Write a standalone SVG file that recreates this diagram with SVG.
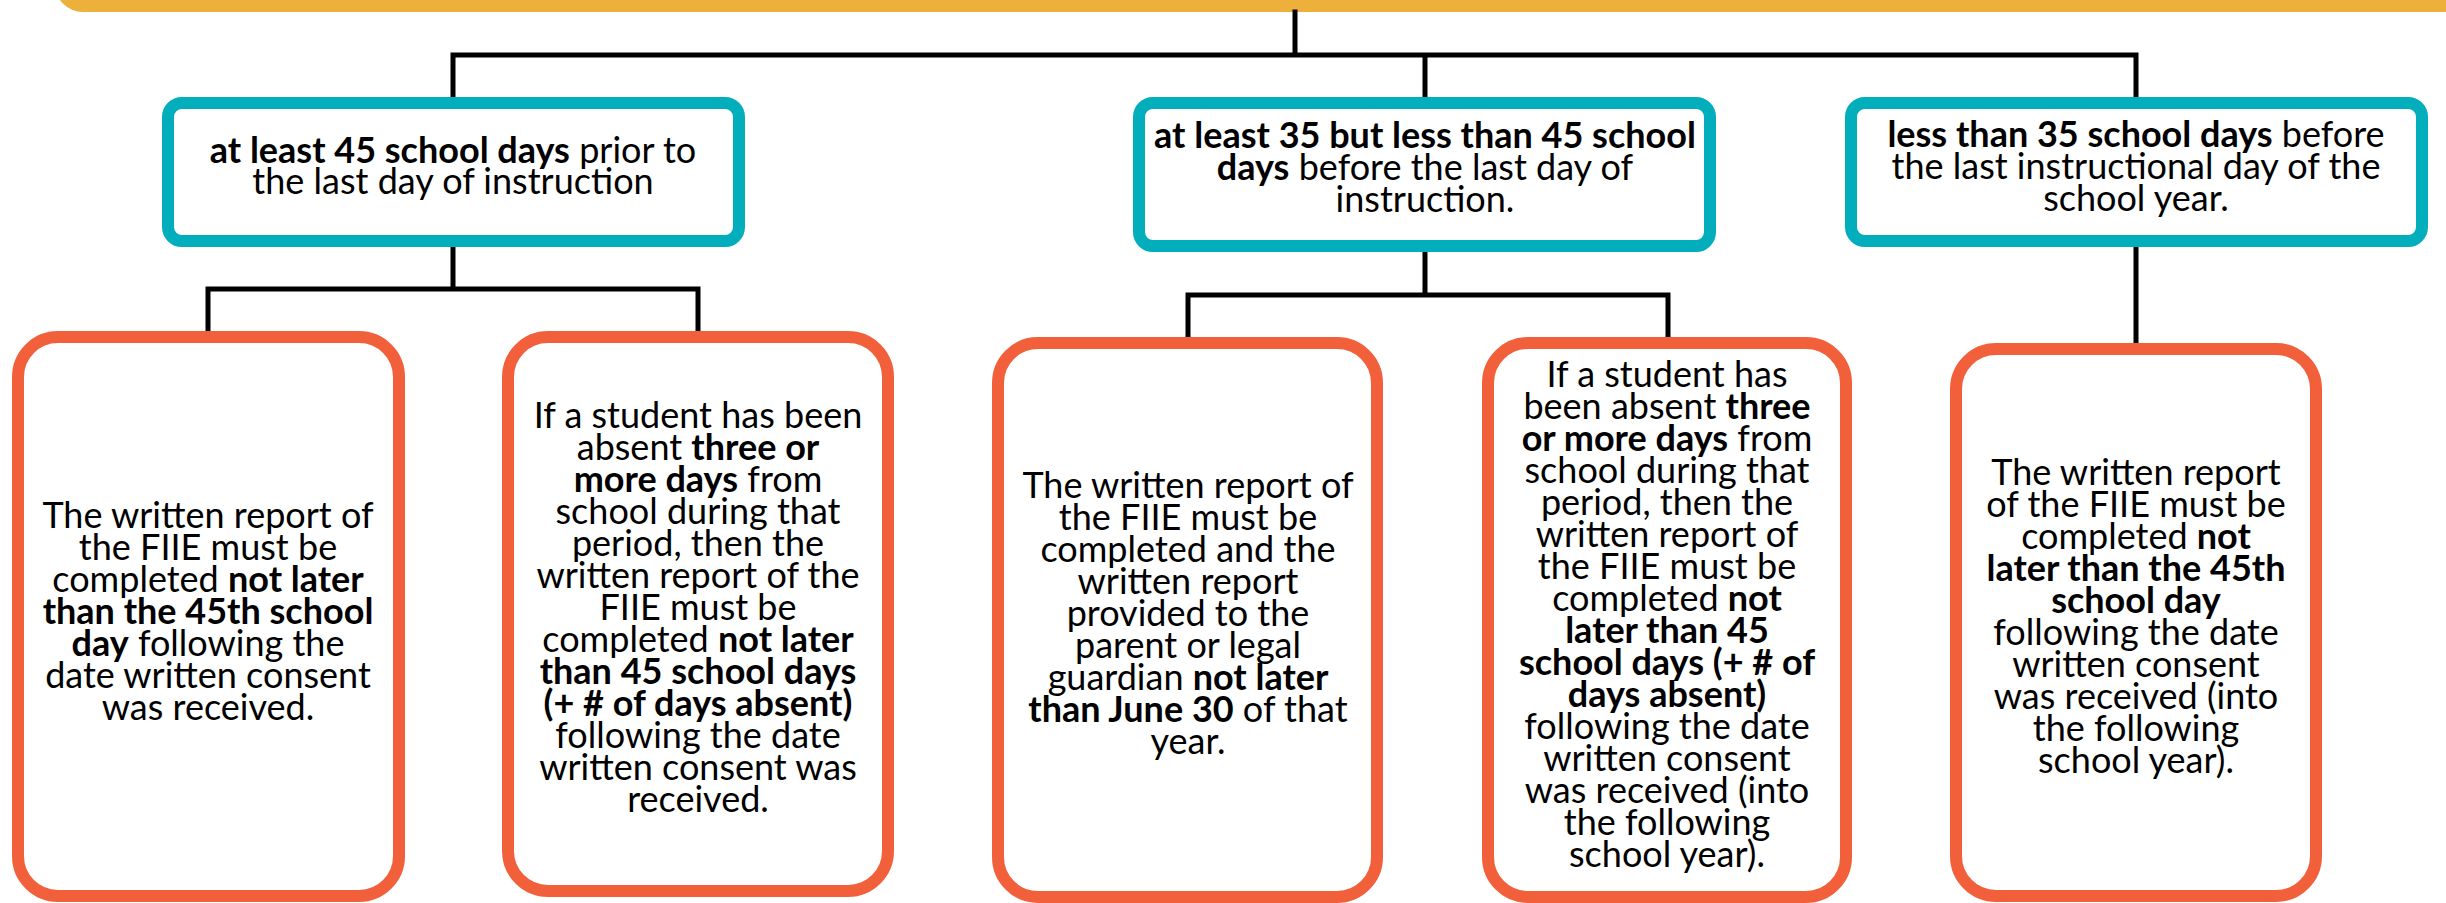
<svg xmlns="http://www.w3.org/2000/svg" width="2446" height="903" viewBox="0 0 2446 903">
<style>
.t{font-family:Lato,"Liberation Sans",sans-serif;font-size:36px;fill:#000;text-anchor:middle}
.b{font-weight:bold}
.teal{fill:#fff;stroke:#03AEBC;stroke-width:12}
.org{fill:#fff;stroke:#F2603B;stroke-width:12}
.ln{stroke:#000;stroke-width:5;fill:none;stroke-linecap:square}
</style>
<rect id="top-bar" x="61" y="-60" width="2446" height="66" rx="22" fill="#fff" stroke="#EDB03A" stroke-width="12"/>
<g id="connectors">
<path class="ln" d="M1295,12 V55 M453,55 H2136 M453,55 V97 M1425,55 V97 M2136,55 V97"/>
<path class="ln" d="M453,247 V289 M208,289 H698 M208,289 V331 M698,289 V331"/>
<path class="ln" d="M1425,252 V295 M1188,295 H1668 M1188,295 V337 M1668,295 V337"/>
<path class="ln" d="M2136,247 V343"/>
</g>
<g id="teal1">
<rect class="teal" x="168" y="103" width="571" height="138" rx="14"/>
<text class="t"><tspan x="453" y="163"><tspan class="b">at least 45 school days</tspan> prior to</tspan><tspan x="453" dy="31">the last day of instruction</tspan></text>
</g>
<g id="teal2">
<rect class="teal" x="1139" y="103" width="571" height="143" rx="14"/>
<text class="t"><tspan x="1425" y="148" class="b">at least 35 but less than 45 school</tspan><tspan x="1425" dy="32"><tspan class="b">days</tspan> before the last day of</tspan><tspan x="1425" dy="32">instruction.</tspan></text>
</g>
<g id="teal3">
<rect class="teal" x="1851" y="103" width="571" height="138" rx="14"/>
<text class="t"><tspan x="2136" y="147"><tspan class="b">less than 35 school days</tspan> before</tspan><tspan x="2136" dy="32">the last instructional day of the</tspan><tspan x="2136" dy="32">school year.</tspan></text>
</g>
<g id="orange1">
<rect class="org" x="18" y="337" width="381" height="559" rx="40"/>
<text class="t"><tspan x="208" y="528">The written report of</tspan><tspan x="208" dy="32">the FIIE must be</tspan><tspan x="208" dy="32">completed <tspan class="b">not later</tspan></tspan><tspan x="208" dy="32" class="b">than the 45th school</tspan><tspan x="208" dy="32"><tspan class="b">day</tspan> following the</tspan><tspan x="208" dy="32">date written consent</tspan><tspan x="208" dy="32">was received.</tspan></text>
</g>
<g id="orange2">
<rect class="org" x="508" y="337" width="380" height="554" rx="40"/>
<text class="t"><tspan x="698" y="428">If a student has been</tspan><tspan x="698" dy="32">absent <tspan class="b">three or</tspan></tspan><tspan x="698" dy="32"><tspan class="b">more days</tspan> from</tspan><tspan x="698" dy="32">school during that</tspan><tspan x="698" dy="32">period, then the</tspan><tspan x="698" dy="32">written report of the</tspan><tspan x="698" dy="32">FIIE must be</tspan><tspan x="698" dy="32">completed <tspan class="b">not later</tspan></tspan><tspan x="698" dy="32" class="b">than 45 school days</tspan><tspan x="698" dy="32" class="b">(+ # of days absent)</tspan><tspan x="698" dy="32">following the date</tspan><tspan x="698" dy="32">written consent was</tspan><tspan x="698" dy="32">received.</tspan></text>
</g>
<g id="orange3">
<rect class="org" x="998" y="343" width="379" height="554" rx="40"/>
<text class="t"><tspan x="1188" y="498">The written report of</tspan><tspan x="1188" dy="32">the FIIE must be</tspan><tspan x="1188" dy="32">completed and the</tspan><tspan x="1188" dy="32">written report</tspan><tspan x="1188" dy="32">provided to the</tspan><tspan x="1188" dy="32">parent or legal</tspan><tspan x="1188" dy="32">guardian <tspan class="b">not later</tspan></tspan><tspan x="1188" dy="32"><tspan class="b">than June 30</tspan> of that</tspan><tspan x="1188" dy="32">year.</tspan></text>
</g>
<g id="orange4">
<rect class="org" x="1488" y="343" width="358" height="554" rx="40"/>
<text class="t"><tspan x="1667" y="387">If a student has</tspan><tspan x="1667" dy="32">been absent <tspan class="b">three</tspan></tspan><tspan x="1667" dy="32"><tspan class="b">or more days</tspan> from</tspan><tspan x="1667" dy="32">school during that</tspan><tspan x="1667" dy="32">period, then the</tspan><tspan x="1667" dy="32">written report of</tspan><tspan x="1667" dy="32">the FIIE must be</tspan><tspan x="1667" dy="32">completed <tspan class="b">not</tspan></tspan><tspan x="1667" dy="32" class="b">later than 45</tspan><tspan x="1667" dy="32" class="b">school days (+ # of</tspan><tspan x="1667" dy="32" class="b">days absent)</tspan><tspan x="1667" dy="32">following the date</tspan><tspan x="1667" dy="32">written consent</tspan><tspan x="1667" dy="32">was received (into</tspan><tspan x="1667" dy="32">the following</tspan><tspan x="1667" dy="32">school year).</tspan></text>
</g>
<g id="orange5">
<rect class="org" x="1956" y="349" width="360" height="547" rx="40"/>
<text class="t"><tspan x="2136" y="485">The written report</tspan><tspan x="2136" dy="32">of the FIIE must be</tspan><tspan x="2136" dy="32">completed <tspan class="b">not</tspan></tspan><tspan x="2136" dy="32" class="b">later than the 45th</tspan><tspan x="2136" dy="32" class="b">school day</tspan><tspan x="2136" dy="32">following the date</tspan><tspan x="2136" dy="32">written consent</tspan><tspan x="2136" dy="32">was received (into</tspan><tspan x="2136" dy="32">the following</tspan><tspan x="2136" dy="32">school year).</tspan></text>
</g>
</svg>
